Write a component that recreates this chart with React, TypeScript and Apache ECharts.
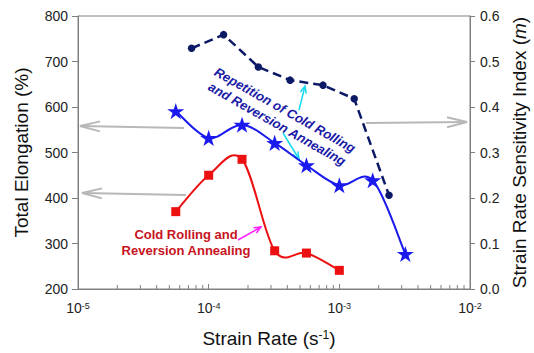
import React, { useEffect, useRef } from "react";
import * as echarts from "echarts";

// Cold rolling + reversion annealing: total elongation (%)
const strainRateCR = [5.6e-5, 1.0e-4, 1.8e-4, 3.2e-4, 5.6e-4, 1.0e-3];
const elongationCR = [370, 450, 485, 284, 279, 241];

// Repeated cold rolling + reversion annealing: total elongation (%)
const strainRateRep = [5.6e-5, 1.0e-4, 1.8e-4, 3.2e-4, 5.6e-4, 1.0e-3, 1.8e-3, 3.2e-3];
const elongationRep = [591, 532, 561, 521, 472, 428, 439, 277];

// Repeated cold rolling + reversion annealing: strain rate sensitivity m
const strainRateM = [7.4e-5, 1.3e-4, 2.4e-4, 4.2e-4, 7.5e-4, 1.3e-3, 2.4e-3];
const mRep = [0.529, 0.559, 0.488, 0.459, 0.448, 0.418, 0.206];

// Minor log ticks on the strain-rate axis
const minorTicks = [2, 3, 4, 5, 6, 7, 8, 9].flatMap((k) => [k * 1e-5, k * 1e-4, k * 1e-3]);

const FONT = "'Liberation Sans', Arial, sans-serif";
const AXIS_GRAY = "#808080";
const STAR =
  "path://M50,0 L61.2,34.5 L97.6,34.5 L68.2,55.9 L79.4,90.5 L50,69.1 L20.6,90.5 L31.8,55.9 L2.4,34.5 L38.8,34.5 Z";

const arrow = (
  x1: number,
  y1: number,
  x2: number,
  y2: number,
  color: string,
  width: number,
  head: number,
  spread: number
) => {
  const dx = x2 - x1;
  const dy = y2 - y1;
  const len = Math.hypot(dx, dy);
  const ux = dx / len;
  const uy = dy / len;
  const bx = x2 - ux * head;
  const by = y2 - uy * head;
  const px = -uy * spread;
  const py = ux * spread;
  const stroke = { stroke: color, lineWidth: width, fill: null };
  return [
    { type: "line", shape: { x1, y1, x2, y2 }, style: stroke, silent: true },
    {
      type: "polyline",
      shape: { points: [[bx + px, by + py], [x2, y2], [bx - px, by - py]] },
      style: stroke,
      silent: true,
    },
  ];
};

// Smooth curve through the points (Catmull-Rom as cubic Bezier segments),
// computed in pixel space from the axis scales.
const splineSeries = (xs: number[], ys: number[], yAxisIndex: number, color: string, width: number) => ({
  type: "custom",
  silent: true,
  yAxisIndex,
  z: 3,
  data: xs.map((x, i) => [x, ys[i]]),
  renderItem: (params: any, api: any) => {
    const n = xs.length;
    const i = params.dataIndex;
    if (i >= n - 1) return { type: "group", children: [] };
    const c = (k: number) => Math.min(n - 1, Math.max(0, k));
    const P = (k: number) => api.coord([xs[c(k)], ys[c(k)]]);
    const p0 = P(i - 1);
    const p1 = P(i);
    const p2 = P(i + 1);
    const p3 = P(i + 2);
    return {
      type: "bezierCurve",
      shape: {
        x1: p1[0],
        y1: p1[1],
        x2: p2[0],
        y2: p2[1],
        cpx1: p1[0] + (p2[0] - p0[0]) / 6,
        cpy1: p1[1] + (p2[1] - p0[1]) / 6,
        cpx2: p2[0] - (p3[0] - p1[0]) / 6,
        cpy2: p2[1] - (p3[1] - p1[1]) / 6,
      },
      style: { stroke: color, lineWidth: width, fill: null },
    };
  },
});

export default function App() {
  const ref = useRef<HTMLDivElement>(null);

  useEffect(() => {
    if (!ref.current) return;
    const chart = echarts.init(ref.current, undefined, { renderer: "svg" });

    const tickLabel = {
      fontFamily: FONT,
      fontSize: 14,
      color: "#222",
    };

    const RED = "#ec1010";
    const BLUE = "#1a1aee";
    const NAVY = "#0c1a66";

    chart.setOption({
      animation: false,
      backgroundColor: "#fff",
      textStyle: { fontFamily: FONT },
      grid: {
        left: 78,
        right: 64,
        top: 16,
        bottom: 64,
        containLabel: false,
        outerBoundsMode: "none",
        show: true,
        borderColor: AXIS_GRAY,
        borderWidth: 1,
      },
      xAxis: {
        type: "log",
        logBase: 10,
        min: 1e-5,
        max: 1e-2,
        splitNumber: 3,
        splitLine: { show: false },
        axisLine: { lineStyle: { color: AXIS_GRAY, width: 1 } },
        axisTick: { inside: true, length: 5, lineStyle: { color: AXIS_GRAY } },
        axisLabel: {
          margin: 12,
          formatter: (v: number) => `{b|10}{s|${Math.round(Math.log10(v))}}`,
          rich: {
            b: { ...tickLabel },
            s: { ...tickLabel, fontSize: 9, verticalAlign: "top" },
          },
        },
        name: "{b|Strain Rate (s}{s|-1}{b|)}",
        nameLocation: "middle",
        nameGap: 40,
        nameTextStyle: {
          padding: [0, 10, 0, 0],
          rich: {
            b: { fontFamily: FONT, fontSize: 19, color: "#111" },
            s: { fontFamily: FONT, fontSize: 12, color: "#111", verticalAlign: "top" },
          },
        },
      },
      yAxis: [
        {
          type: "value",
          min: 200,
          max: 800,
          interval: 100,
          splitLine: { show: false },
          axisLine: { show: true, lineStyle: { color: AXIS_GRAY, width: 1 } },
          axisTick: { show: true, length: 6, lineStyle: { color: AXIS_GRAY } },
          axisLabel: { ...tickLabel, margin: 10 },
          name: "Total Elongation (%)",
          nameLocation: "middle",
          nameRotate: 90,
          nameGap: 47,
          nameTextStyle: { fontFamily: FONT, fontSize: 19, color: "#111" },
        },
        {
          type: "value",
          min: 0,
          max: 0.6,
          interval: 0.1,
          position: "right",
          splitLine: { show: false },
          axisLine: { show: true, lineStyle: { color: AXIS_GRAY, width: 1 } },
          axisTick: { show: true, length: 5, lineStyle: { color: AXIS_GRAY } },
          axisLabel: {
            ...tickLabel,
            margin: 10,
            formatter: (v: number) => v.toFixed(1),
          },
          name: "{b|Strain Rate Sensitivity Index (}{i|m}{b|)}",
          nameLocation: "middle",
          nameRotate: 90,
          nameGap: 40,
          nameTextStyle: {
            rich: {
              b: { fontFamily: FONT, fontSize: 19, color: "#111" },
              i: { fontFamily: FONT, fontSize: 19, color: "#111", fontStyle: "italic" },
            },
          },
        },
      ],
      series: [
        {
          type: "custom",
          silent: true,
          xAxisIndex: 0,
          yAxisIndex: 0,
          data: minorTicks.map((v) => [v, 200]),
          renderItem: (_p: any, api: any) => {
            const pt = api.coord([api.value(0), 200]);
            return {
              type: "line",
              shape: { x1: pt[0], y1: pt[1], x2: pt[0], y2: pt[1] - 4 },
              style: { stroke: AXIS_GRAY, lineWidth: 1 },
            };
          },
          z: 1,
        },
        {
          name: "m (repeated)",
          type: "line",
          yAxisIndex: 1,
          data: strainRateM.map((x, i) => [x, mRep[i]]),
          symbol: "circle",
          symbolSize: 7.5,
          itemStyle: { color: NAVY },
          lineStyle: { color: NAVY, width: 2.5, type: [9, 5] },
          z: 3,
        },
        splineSeries(strainRateRep, elongationRep, 0, BLUE, 2),
        splineSeries(strainRateCR, elongationCR, 0, RED, 2),
        {
          name: "Elongation (repeated)",
          type: "scatter",
          yAxisIndex: 0,
          data: strainRateRep.map((x, i) => [x, elongationRep[i]]),
          symbol: STAR,
          symbolKeepAspect: true,
          symbolSize: 17,
          itemStyle: { color: BLUE, opacity: 1 },
          z: 4,
        },
        {
          name: "Elongation (single)",
          type: "scatter",
          yAxisIndex: 0,
          data: strainRateCR.map((x, i) => [x, elongationCR[i]]),
          symbol: "rect",
          symbolSize: 9,
          itemStyle: { color: RED, opacity: 1 },
          z: 4,
        },
      ],
      graphic: [
        // pointers from each curve to its axis
        ...arrow(184, 128, 80, 126, "#b8b8b8", 2, 20, 5),
        ...arrow(186, 195, 82, 193, "#b8b8b8", 2, 20, 5),
        ...arrow(366, 123, 467, 122, "#b8b8b8", 2, 20, 5),
        // annotation pointers
        ...arrow(299, 110, 305, 86, "#19d9ee", 1.5, 7, 3),
        ...arrow(283, 133, 299, 159, "#19d9ee", 1.5, 7, 3),
        ...arrow(238, 240, 261, 227, "#ff22ff", 1.5, 7, 3),
        {
          type: "text",
          x: 281,
          y: 117,
          rotation: (-29.5 * Math.PI) / 180,
          silent: true,
          style: {
            text: "Repetition of Cold Rolling\nand Reversion Annealing",
            fill: "#1a1aa6",
            font: `italic bold 13px ${FONT}`,
            align: "center",
            verticalAlign: "middle",
            lineHeight: 16,
          },
          z: 10,
        },
        {
          type: "text",
          x: 186,
          y: 242.5,
          silent: true,
          style: {
            text: "Cold Rolling and\nReversion Annealing",
            fill: "#c8141e",
            font: `bold 13px ${FONT}`,
            align: "center",
            verticalAlign: "middle",
            lineHeight: 16,
          },
          z: 10,
        },
      ],
    });

    return () => chart.dispose();
  }, []);

  return (
    <div
      ref={ref}
      style={{ position: "fixed", left: 0, top: 0, width: 534, height: 353, background: "#fff" }}
    />
  );
}
